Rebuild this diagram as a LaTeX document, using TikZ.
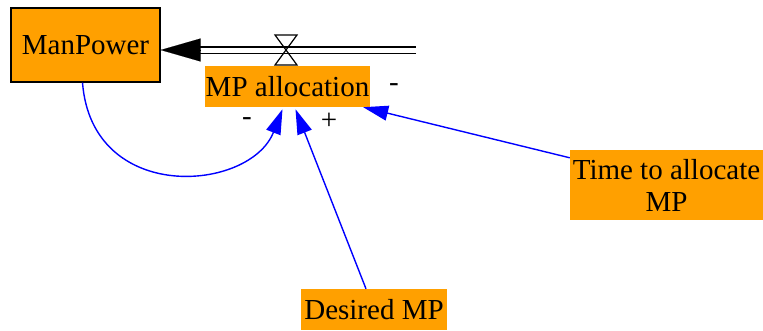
\documentclass[tikz,border=0pt]{standalone}
\usepackage{fontspec}
\setmainfont{LiberationSerif}[Extension=.ttf, UprightFont=*-Regular]
\usetikzlibrary{arrows.meta}
\definecolor{vensim}{RGB}{255,160,0}
\tikzset{
    stock/.style={draw, line width=1.2pt, fill=vensim, inner sep=0pt, minimum width=149pt, minimum height=74pt},
    aux/.style={fill=vensim, inner sep=0pt, align=center},
    pipe/.style={draw, line width=1.5pt, double distance=5pt},
    valve/.style={draw, line width=1.2pt},
    link/.style={draw=blue, line width=1.4pt, -{Triangle[length=25pt,width=15pt]}},
    pol/.style={font=\fontsize{29}{32}\selectfont},
  }
\begin{document}
\begin{tikzpicture}[x=1pt, y=-1pt, font=\fontsize{29}{32}\selectfont]
    \useasboundingbox (0,0) rectangle (763,330);
    % stock and flow
    \node[stock] (manpower) at (85.5,45) {ManPower};
    \coordinate (pipeend) at (416,50);
    \coordinate (headbase) at (200,50);
    \draw[pipe] (pipeend) -- (headbase);
    \draw[line width=0.1pt, -{Triangle[length=40pt,width=23pt]}] (headbase) -- (manpower.east |- headbase);
    \draw[valve] (275,35) -- (297,35) -- (275,65) -- (297,65) -- cycle;
    \node[aux, minimum width=165pt, minimum height=41pt] (alloc) at (287.5,86.5) {MP allocation};
    % auxiliaries
    \node[aux, minimum width=146pt, minimum height=41pt] (desired) at (374,309.5) {Desired MP};
    \node[aux, minimum width=193pt, minimum height=70pt] (timealloc) at (666.5,185) {Time to allocate\\MP};
    % links
    \draw[link] ([xshift=-3pt]manpower.south) .. controls (92,205) and (250,192) .. ([xshift=-5pt, yshift=-2pt]alloc.south);
    \draw[link] ([xshift=-8pt]desired.north) -- ([xshift=8pt, yshift=-2pt]alloc.south);
    \draw[link] ([yshift=-8pt]timealloc.north west) -- ([xshift=-7pt]alloc.south east);
    % polarities
    \node[pol] (p1) at (394,88) {-};
    \node[pol] (p2) at (247,122) {-};
    \node[pol] (p3) at (329,121) {+};
\end{tikzpicture}
\end{document}
